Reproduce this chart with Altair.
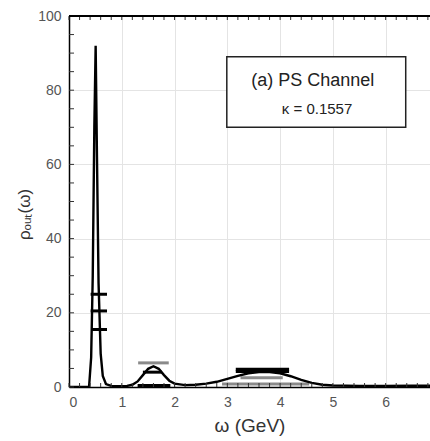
import altair as alt
import numpy as np
import pandas as pd

# spectral function curve
omega = [0.0, 0.2, 0.3, 0.38, 0.42, 0.45, 0.48, 0.505, 0.53, 0.56, 0.6, 0.64, 0.7, 0.8,
         0.9, 1.0, 1.1, 1.2, 1.3, 1.4, 1.5, 1.6, 1.7, 1.8, 1.9, 2.0, 2.2, 2.4, 2.6, 2.8,
         3.0, 3.2, 3.4, 3.6, 3.8, 4.0, 4.2, 4.4, 4.6, 4.8, 5.0, 5.5, 6.0, 6.5, 6.9]
rho = [0.0, 0.0, 0.0, 0.0, 8.0, 30.0, 70.0, 92.0, 62.0, 28.0, 9.0, 3.0, 0.8, 0.3,
       0.2, 0.2, 0.3, 0.6, 1.5, 3.2, 4.9, 5.6, 4.9, 3.2, 1.7, 0.9, 0.5, 0.6, 0.9, 1.4,
       2.2, 3.0, 3.7, 4.0, 4.0, 3.7, 2.9, 1.9, 1.1, 0.6, 0.4, 0.3, 0.3, 0.35, 0.35]

# horizontal error bars (black)
bar_y = [25.0, 20.5, 15.5, 4.0, 4.8, 4.2, 0.4]
bar_x1 = [0.41, 0.41, 0.43, 1.40, 3.16, 3.16, 1.30]
bar_x2 = [0.72, 0.72, 0.72, 1.76, 4.17, 4.17, 1.92]
# horizontal error bars (grey)
gbar_y = [6.5, 2.5, 0.8]
gbar_x1 = [1.31, 3.25, 2.90]
gbar_x2 = [1.89, 4.05, 4.55]

# tick positions
xticks = [0, 1, 2, 3, 4, 5, 6]
yticks = [0, 20, 40, 60, 80, 100]
x_minor = [round(v, 1) for v in np.arange(0, 6.9, 0.2)]
y_minor = list(range(0, 101, 5))

# annotation box
box_x = [2.99]
box_x2 = [6.38]
box_y = [70.0]
box_y2 = [89.0]

W, H = 361, 371
xs = alt.Scale(domain=[0, 6.84], nice=False, zero=False)
ys = alt.Scale(domain=[0, 100], nice=False)

curve_df = pd.DataFrame({"w": omega, "r": rho})
bars_df = pd.DataFrame({"y": bar_y, "x1": bar_x1, "x2": bar_x2})
gbars_df = pd.DataFrame({"y": gbar_y, "x1": gbar_x1, "x2": gbar_x2})
xm_df = pd.DataFrame({"x": x_minor})
ym_df = pd.DataFrame({"y": y_minor})
box_df = pd.DataFrame({"x": box_x, "x2": box_x2, "y": box_y, "y2": box_y2})
txt_df = pd.DataFrame({"x": [4.62, 4.70], "y": [82.6, 75.0],
                       "t": ["(a) PS Channel", "κ = 0.1557"], "s": [18, 15]})

font = "Liberation Sans"

base = alt.Chart(curve_df).mark_line(color="black", strokeWidth=2.4, clip=True).encode(
    x=alt.X("w:Q", scale=xs,
            axis=alt.Axis(values=xticks, format="d", title="ω (GeV)", grid=True,
                          gridColor="#e4e4e4", ticks=False, labelPadding=8, titlePadding=7,
                          domainColor="black", domainWidth=1.5,
                          labelFontSize=14, titleFontSize=19, labelColor="#555",
                          titleColor="#333", labelFont=font, titleFont=font,
                          titleFontWeight="normal")),
    y=alt.Y("r:Q", scale=ys,
            axis=alt.Axis(values=yticks, format="d", title="ρₒᵤₜ(ω)", grid=True,
                          gridColor="#e4e4e4", ticks=False, labelPadding=8, titlePadding=4,
                          titleY=198,
                          domainColor="black", domainWidth=1.5,
                          labelFontSize=14, titleFontSize=17, labelColor="#555",
                          titleColor="#333", labelFont=font, titleFont=font,
                          titleFontWeight="normal")),
)

gbars = alt.Chart(gbars_df).mark_rule(color="#8a8a8a", strokeWidth=3).encode(
    x=alt.X("x1:Q", scale=xs), x2="x2:Q", y=alt.Y("y:Q", scale=ys))
bars = alt.Chart(bars_df).mark_rule(color="black", strokeWidth=3).encode(
    x=alt.X("x1:Q", scale=xs), x2="x2:Q", y=alt.Y("y:Q", scale=ys))

left_ticks = alt.Chart(ym_df).mark_rule(color="#333", strokeWidth=1).encode(
    y=alt.Y("y:Q", scale=ys), x=alt.value(0), x2=alt.value(5))
top_ticks = alt.Chart(xm_df).mark_rule(color="#333", strokeWidth=1).encode(
    x=alt.X("x:Q", scale=xs), y=alt.value(0), y2=alt.value(4))
bot_ticks = alt.Chart(xm_df).mark_rule(color="#333", strokeWidth=1).encode(
    x=alt.X("x:Q", scale=xs), y=alt.value(H), y2=alt.value(H - 4))
top_line = alt.Chart(xm_df).mark_rule(color="black", strokeWidth=1.5).encode(
    x=alt.value(0), x2=alt.value(W), y=alt.value(0))

box = alt.Chart(box_df).mark_rect(fill="white", stroke="#222", strokeWidth=1.5).encode(
    x=alt.X("x:Q", scale=xs), x2="x2:Q", y=alt.Y("y:Q", scale=ys), y2="y2:Q")
txt = alt.Chart(txt_df).mark_text(font=font, color="#222", align="center",
                                  baseline="middle").encode(
    x=alt.X("x:Q", scale=xs), y=alt.Y("y:Q", scale=ys), text="t:N",
    size=alt.Size("s:Q", scale=None, legend=None))

chart = alt.layer(gbars, base, bars, left_ticks, top_ticks, bot_ticks, top_line, box, txt).properties(
    width=W, height=H,
    autosize=alt.AutoSizeParams(type="none"),
    padding={"left": 69, "top": 16, "right": 0, "bottom": 54},
).configure_view(stroke=None).configure(background="white")

chart.save("out.html", embed_options={"renderer": "svg", "actions": False})
